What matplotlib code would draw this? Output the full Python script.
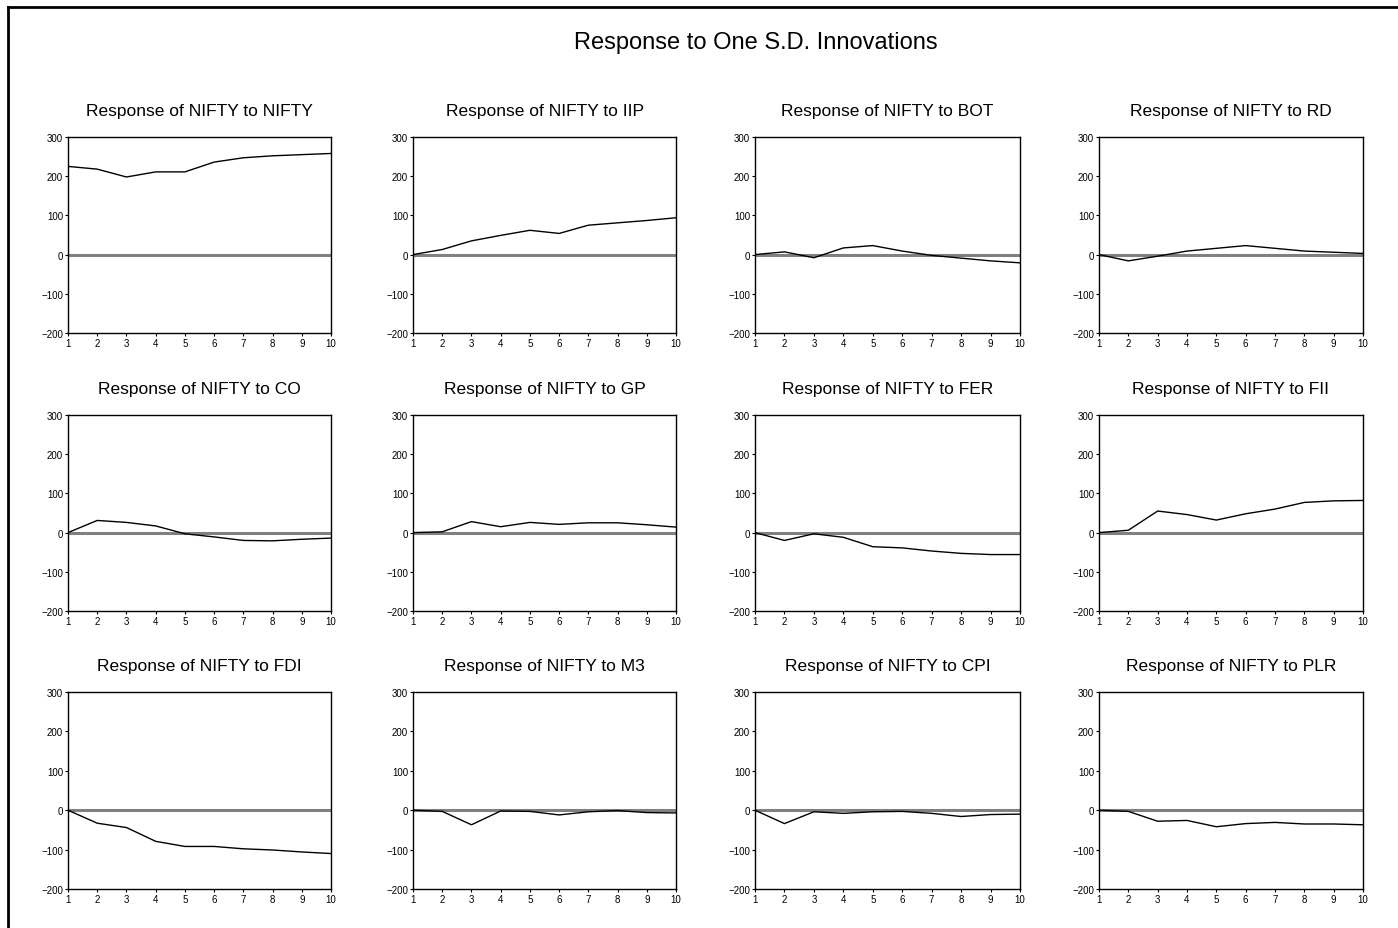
import matplotlib
matplotlib.use('Agg')
import matplotlib.pyplot as plt
from matplotlib.lines import Line2D

# --- Impulse responses ---
periods = [1, 2, 3, 4, 5, 6, 7, 8, 9, 10]

shocks = ["NIFTY", "IIP", "BOT", "RD", "CO", "GP", "FER", "FII", "FDI", "M3", "CPI", "PLR"]

resp_nifty = [225, 218, 198, 211, 211, 236, 247, 252, 255, 258]
resp_iip = [0, 13, 35, 49, 62, 54, 75, 81, 87, 94]
resp_bot = [0, 7, -8, 17, 23, 9, -2, -9, -16, -21]
resp_rd = [0, -16, -4, 9, 16, 23, 16, 9, 6, 3]
resp_co = [0, 31, 26, 17, -3, -11, -20, -21, -17, -14]
resp_gp = [0, 2, 28, 15, 26, 21, 25, 25, 20, 14]
resp_fer = [0, -20, -3, -12, -36, -39, -47, -53, -56, -56]
resp_fii = [0, 6, 55, 46, 32, 48, 60, 77, 81, 82]
resp_fdi = [0, -33, -44, -79, -92, -92, -98, -101, -106, -110]
resp_m3 = [0, -3, -37, -2, -3, -12, -4, -1, -6, -7]
resp_cpi = [0, -34, -4, -8, -4, -3, -8, -16, -11, -10]
resp_plr = [0, -3, -28, -26, -42, -34, -31, -35, -35, -37]

responses = [resp_nifty, resp_iip, resp_bot, resp_rd,
             resp_co, resp_gp, resp_fer, resp_fii,
             resp_fdi, resp_m3, resp_cpi, resp_plr]

y_ticks = [-200, -100, 0, 100, 200, 300]

W, H = 1398, 929
fig = plt.figure(figsize=(W / 100, H / 100), dpi=100)
fig.patch.set_facecolor('white')

# outer frame
fig.add_artist(Line2D([8 / W, 8 / W], [0, 1 - 8 / H], color='black', lw=2, transform=fig.transFigure))
fig.add_artist(Line2D([8 / W, 1], [1 - 8 / H, 1 - 8 / H], color='black', lw=2, transform=fig.transFigure))

fig.text(756 / W, 1 - 43 / H, 'Response to One S.D. Innovations',
         ha='center', va='center', fontsize=17, family='Liberation Sans')

col_left = [68, 413, 755, 1099]
col_right = [331, 676, 1020, 1363]
row_top = [138, 416, 693]
row_bot = [334, 612, 890]

for i, (name, vals) in enumerate(zip(shocks, responses)):
    r, c = divmod(i, 4)
    x0 = col_left[c] / W
    w = (col_right[c] - col_left[c]) / W
    y0 = 1 - row_bot[r] / H
    h = (row_bot[r] - row_top[r]) / H
    ax = fig.add_axes([x0, y0, w, h])
    ax.axhline(0, color='#808080', lw=2.2, zorder=1)
    ax.plot(periods, vals, color='black', lw=1.0, zorder=2)
    ax.set_xlim(1, 10)
    ax.set_ylim(-200, 300)
    ax.set_yticks(y_ticks)
    ax.set_xticks(periods)
    ax.tick_params(axis='both', direction='out', length=2.5, width=0.8,
                   labelsize=7, pad=1)
    for lab in ax.get_xticklabels() + ax.get_yticklabels():
        lab.set_family('Liberation Sans')
    for spine in ax.spines.values():
        spine.set_linewidth(1.0)
    ax.set_title('Response of NIFTY to ' + name, fontsize=12.5,
                 family='Liberation Sans', pad=16)

fig.savefig('out.png', dpi=100, facecolor='white')
